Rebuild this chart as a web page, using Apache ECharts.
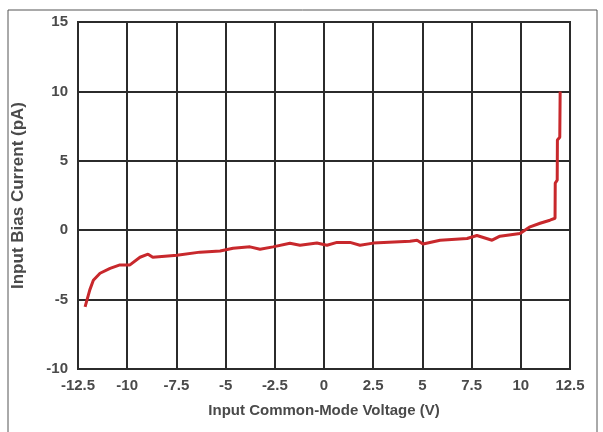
<!DOCTYPE html>
<html>
<head>
<meta charset="utf-8">
<script src="https://cdn.jsdelivr.net/npm/echarts@6/dist/echarts.min.js"></script>
<style>
  html, body { margin: 0; padding: 0; background: #fff; }
  #chart { width: 603px; height: 432px; }
</style>
</head>
<body>
<div id="chart"></div>
<script>
// Input common-mode voltage (V)
const voltage = [
  -12.14, -11.9, -11.72, -11.38, -10.87, -10.37, -9.86, -9.35, -8.94, -8.7,
  -7.47, -6.3, -5.28, -4.62, -3.76, -3.25, -2.59, -1.73, -1.22, -0.36,
  0.15, 0.66, 1.32, 1.83, 2.5, 4.37, 4.73, 5.03, 5.9, 7.27,
  7.77, 8.54, 8.94, 9.96, 10.47, 10.98, 11.48, 11.74, 11.75, 11.85,
  11.86, 11.98, 12.0
];
// Input bias current (pA)
const biasCurrent = [
  -5.52, -4.3, -3.6, -3.1, -2.75, -2.5, -2.5, -1.95, -1.73, -1.95,
  -1.8, -1.58, -1.5, -1.3, -1.2, -1.37, -1.2, -0.94, -1.08, -0.92,
  -1.08, -0.88, -0.88, -1.08, -0.93, -0.8, -0.72, -1.0, -0.72, -0.6,
  -0.38, -0.72, -0.43, -0.24, 0.24, 0.5, 0.72, 0.86, 3.4, 3.6,
  6.5, 6.7, 10.0
];

const points = voltage.map((v, i) => [v, biasCurrent[i]]);

const chart = echarts.init(document.getElementById('chart'));
const gridColor = '#2b2b2b';
const textColor = '#4a4a4a';
const font = 'Liberation Sans, Arial, sans-serif';

chart.setOption({
  animation: false,
  backgroundColor: '#ffffff',
  graphic: [{
    type: 'rect',
    shape: { x: 8, y: 10, width: 589, height: 430 },
    style: { fill: 'none', stroke: '#555', lineWidth: 1 },
    silent: true
  }],
  grid: {
    left: 78, right: 33, top: 22, bottom: 63,
    show: true, borderColor: gridColor, borderWidth: 2
  },
  xAxis: {
    type: 'value',
    min: -12.5, max: 12.5, interval: 2.5,
    name: 'Input Common-Mode Voltage (V)',
    nameLocation: 'middle', nameGap: 34,
    nameTextStyle: { fontFamily: font, fontSize: 15, fontWeight: 'bold', color: textColor },
    axisLine: { show: true, lineStyle: { color: gridColor, width: 2 } },
    axisTick: { show: false },
    axisLabel: { fontFamily: font, fontSize: 15, fontWeight: 'bold', color: textColor, margin: 9 },
    splitLine: { show: true, lineStyle: { color: gridColor, width: 2 } }
  },
  yAxis: {
    type: 'value',
    min: -10, max: 15, interval: 5,
    name: 'Input Bias Current (pA)',
    nameLocation: 'middle', nameGap: 51,
    nameTextStyle: { fontFamily: font, fontSize: 17, fontWeight: 'bold', color: textColor },
    axisLine: { show: true, lineStyle: { color: gridColor, width: 2 } },
    axisTick: { show: false },
    axisLabel: { fontFamily: font, fontSize: 15, fontWeight: 'bold', color: textColor, margin: 10 },
    splitLine: { show: true, lineStyle: { color: gridColor, width: 2 } }
  },
  series: [{
    type: 'line',
    data: points,
    showSymbol: false,
    lineStyle: { color: '#c8282c', width: 3 },
    z: 5
  }]
});
</script>
</body>
</html>
